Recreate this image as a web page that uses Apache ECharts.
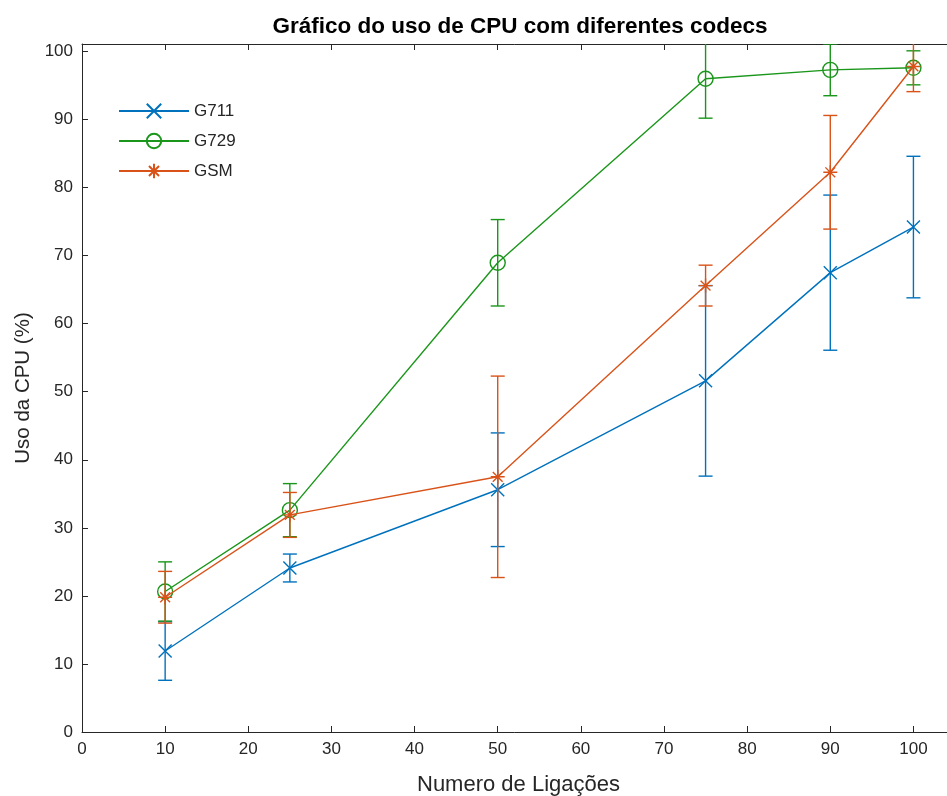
<!DOCTYPE html>
<html>
<head>
<meta charset="utf-8">
<script src="https://cdn.jsdelivr.net/npm/echarts@6/dist/echarts.min.js"></script>
<style>
  html, body { margin: 0; padding: 0; background: #fff; }
  #chart { width: 947px; height: 796px; }
</style>
</head>
<body>
<div id="chart"></div>
<script>
// numero de ligacoes
const calls = [10, 25, 50, 75, 90, 100];

// uso da CPU (%) e erro (+/-) por codec
const g711Mean = [11.9, 24.1, 35.6, 51.6, 67.5, 74.2];
const g711Err = [4.3, 2.05, 8.35, 14.0, 11.4, 10.4];
const g729Mean = [20.65, 32.6, 68.95, 96.0, 97.3, 97.6];
const g729Err = [4.35, 3.9, 6.35, 5.8, 3.8, 2.5];
const gsmMean = [19.8, 31.9, 37.5, 65.6, 82.25, 97.8];
const gsmErr = [3.8, 3.3, 14.8, 3.0, 8.35, 3.7];

const xTicks = [0, 10, 20, 30, 40, 50, 60, 70, 80, 90, 100];
const yTicks = [0, 10, 20, 30, 40, 50, 60, 70, 80, 90, 100];

const FONT = "'Liberation Sans', Arial, Helvetica, sans-serif";
const AXIS_COLOR = "#262626";
const BLUE = "#0072BD";
const GREEN = "#1a961a";
const ORANGE = "#D95319";

const chart = echarts.init(document.getElementById("chart"));

function errorBars(name, means, errs, color, z) {
  return {
    type: "custom",
    name: name + " erro",
    xAxisIndex: 0,
    yAxisIndex: 0,
    z: z,
    clip: true,
    silent: true,
    data: calls.map((x, i) => [x, means[i] - errs[i], means[i] + errs[i]]),
    renderItem: (params, api) => {
      const lo = api.coord([api.value(0), api.value(1)]);
      const hi = api.coord([api.value(0), api.value(2)]);
      const w = 7; // meia largura da barra de erro
      const style = { stroke: color, lineWidth: 1.4, fill: null };
      return {
        type: "group",
        children: [
          { type: "line", shape: { x1: lo[0], y1: lo[1], x2: hi[0], y2: hi[1] }, style: style },
          { type: "line", shape: { x1: lo[0] - w, y1: lo[1], x2: lo[0] + w, y2: lo[1] }, style: style },
          { type: "line", shape: { x1: hi[0] - w, y1: hi[1], x2: hi[0] + w, y2: hi[1] }, style: style },
        ],
      };
    },
  };
}

function lineSeries(name, means, color, symbol, size, z) {
  return {
    type: "line",
    name: name,
    xAxisIndex: 0,
    yAxisIndex: 0,
    z: z,
    clip: true,
    color: color,
    data: calls.map((x, i) => [x, means[i]]),
    symbol: symbol,
    symbolSize: size,
    showAllSymbol: true,
    lineStyle: { color: color, width: 1.4 },
    itemStyle: { color: "rgba(0,0,0,0)", borderColor: color, borderWidth: 1.4 },
    emphasis: { disabled: true },
  };
}

chart.setOption({
  animation: false,
  backgroundColor: "#fff",
  textStyle: { fontFamily: FONT },
  title: {
    text: "Gráfico do uso de CPU com diferentes codecs",
    left: 520,
    top: 15,
    padding: 0,
    textAlign: "center",
    textStyle: { fontFamily: FONT, fontSize: 22.5, fontWeight: "bold", color: "#000" },
  },
  legend: {
    orient: "vertical",
    left: 118,
    top: 102,
    itemWidth: 70,
    itemHeight: 18,
    itemGap: 12,
    padding: 0,
    data: ["G711", "G729", "GSM"],
    textStyle: { fontFamily: FONT, fontSize: 17, color: AXIS_COLOR, lineHeight: 18 },
  },
  grid: { left: 82, right: -8, top: 44, bottom: 64, outerBoundsMode: "none", containLabel: false },
  xAxis: [
    {
      type: "value",
      min: 0,
      max: 105,
      interval: 10,
      name: "Numero de Ligações",
      nameLocation: "middle",
      nameGap: 42,
      nameTextStyle: { fontFamily: FONT, fontSize: 22, color: AXIS_COLOR },
      splitLine: { show: false },
      axisLine: { onZero: false, lineStyle: { color: AXIS_COLOR, width: 1 } },
      axisTick: { inside: true, length: 6, customValues: xTicks, lineStyle: { color: AXIS_COLOR } },
      axisLabel: { customValues: xTicks, margin: 9, fontFamily: FONT, fontSize: 17, color: AXIS_COLOR },
    },
    {
      type: "value",
      position: "top",
      min: 0,
      max: 105,
      interval: 10,
      splitLine: { show: false },
      axisLine: { onZero: false, lineStyle: { color: AXIS_COLOR, width: 1 } },
      axisTick: { inside: true, length: 6, customValues: xTicks, lineStyle: { color: AXIS_COLOR } },
      axisLabel: { show: false },
    },
  ],
  yAxis: {
    type: "value",
    min: 0,
    max: 101.1,
    interval: 10,
    name: "Uso da CPU (%)",
    nameLocation: "middle",
    nameGap: 45,
    nameTextStyle: { fontFamily: FONT, fontSize: 20.5, color: AXIS_COLOR },
    splitLine: { show: false },
    axisLine: { show: true, onZero: false, lineStyle: { color: AXIS_COLOR, width: 1 } },
    axisTick: { show: true, inside: true, length: 6, customValues: yTicks, lineStyle: { color: AXIS_COLOR } },
    axisLabel: { customValues: yTicks, margin: 9, fontFamily: FONT, fontSize: 17, color: AXIS_COLOR },
  },
  series: [
    errorBars("G711", g711Mean, g711Err, BLUE, 2),
    lineSeries("G711", g711Mean, BLUE, "path://M0,0L10,10M10,0L0,10", 13, 3),
    errorBars("G729", g729Mean, g729Err, GREEN, 4),
    lineSeries("G729", g729Mean, GREEN, "circle", 15, 5),
    errorBars("GSM", gsmMean, gsmErr, ORANGE, 6),
    lineSeries("GSM", gsmMean, ORANGE, "path://M5,0L5,10M0,5L10,5M1.5,1.5L8.5,8.5M8.5,1.5L1.5,8.5", 14, 7),
  ],
});
</script>
</body>
</html>
